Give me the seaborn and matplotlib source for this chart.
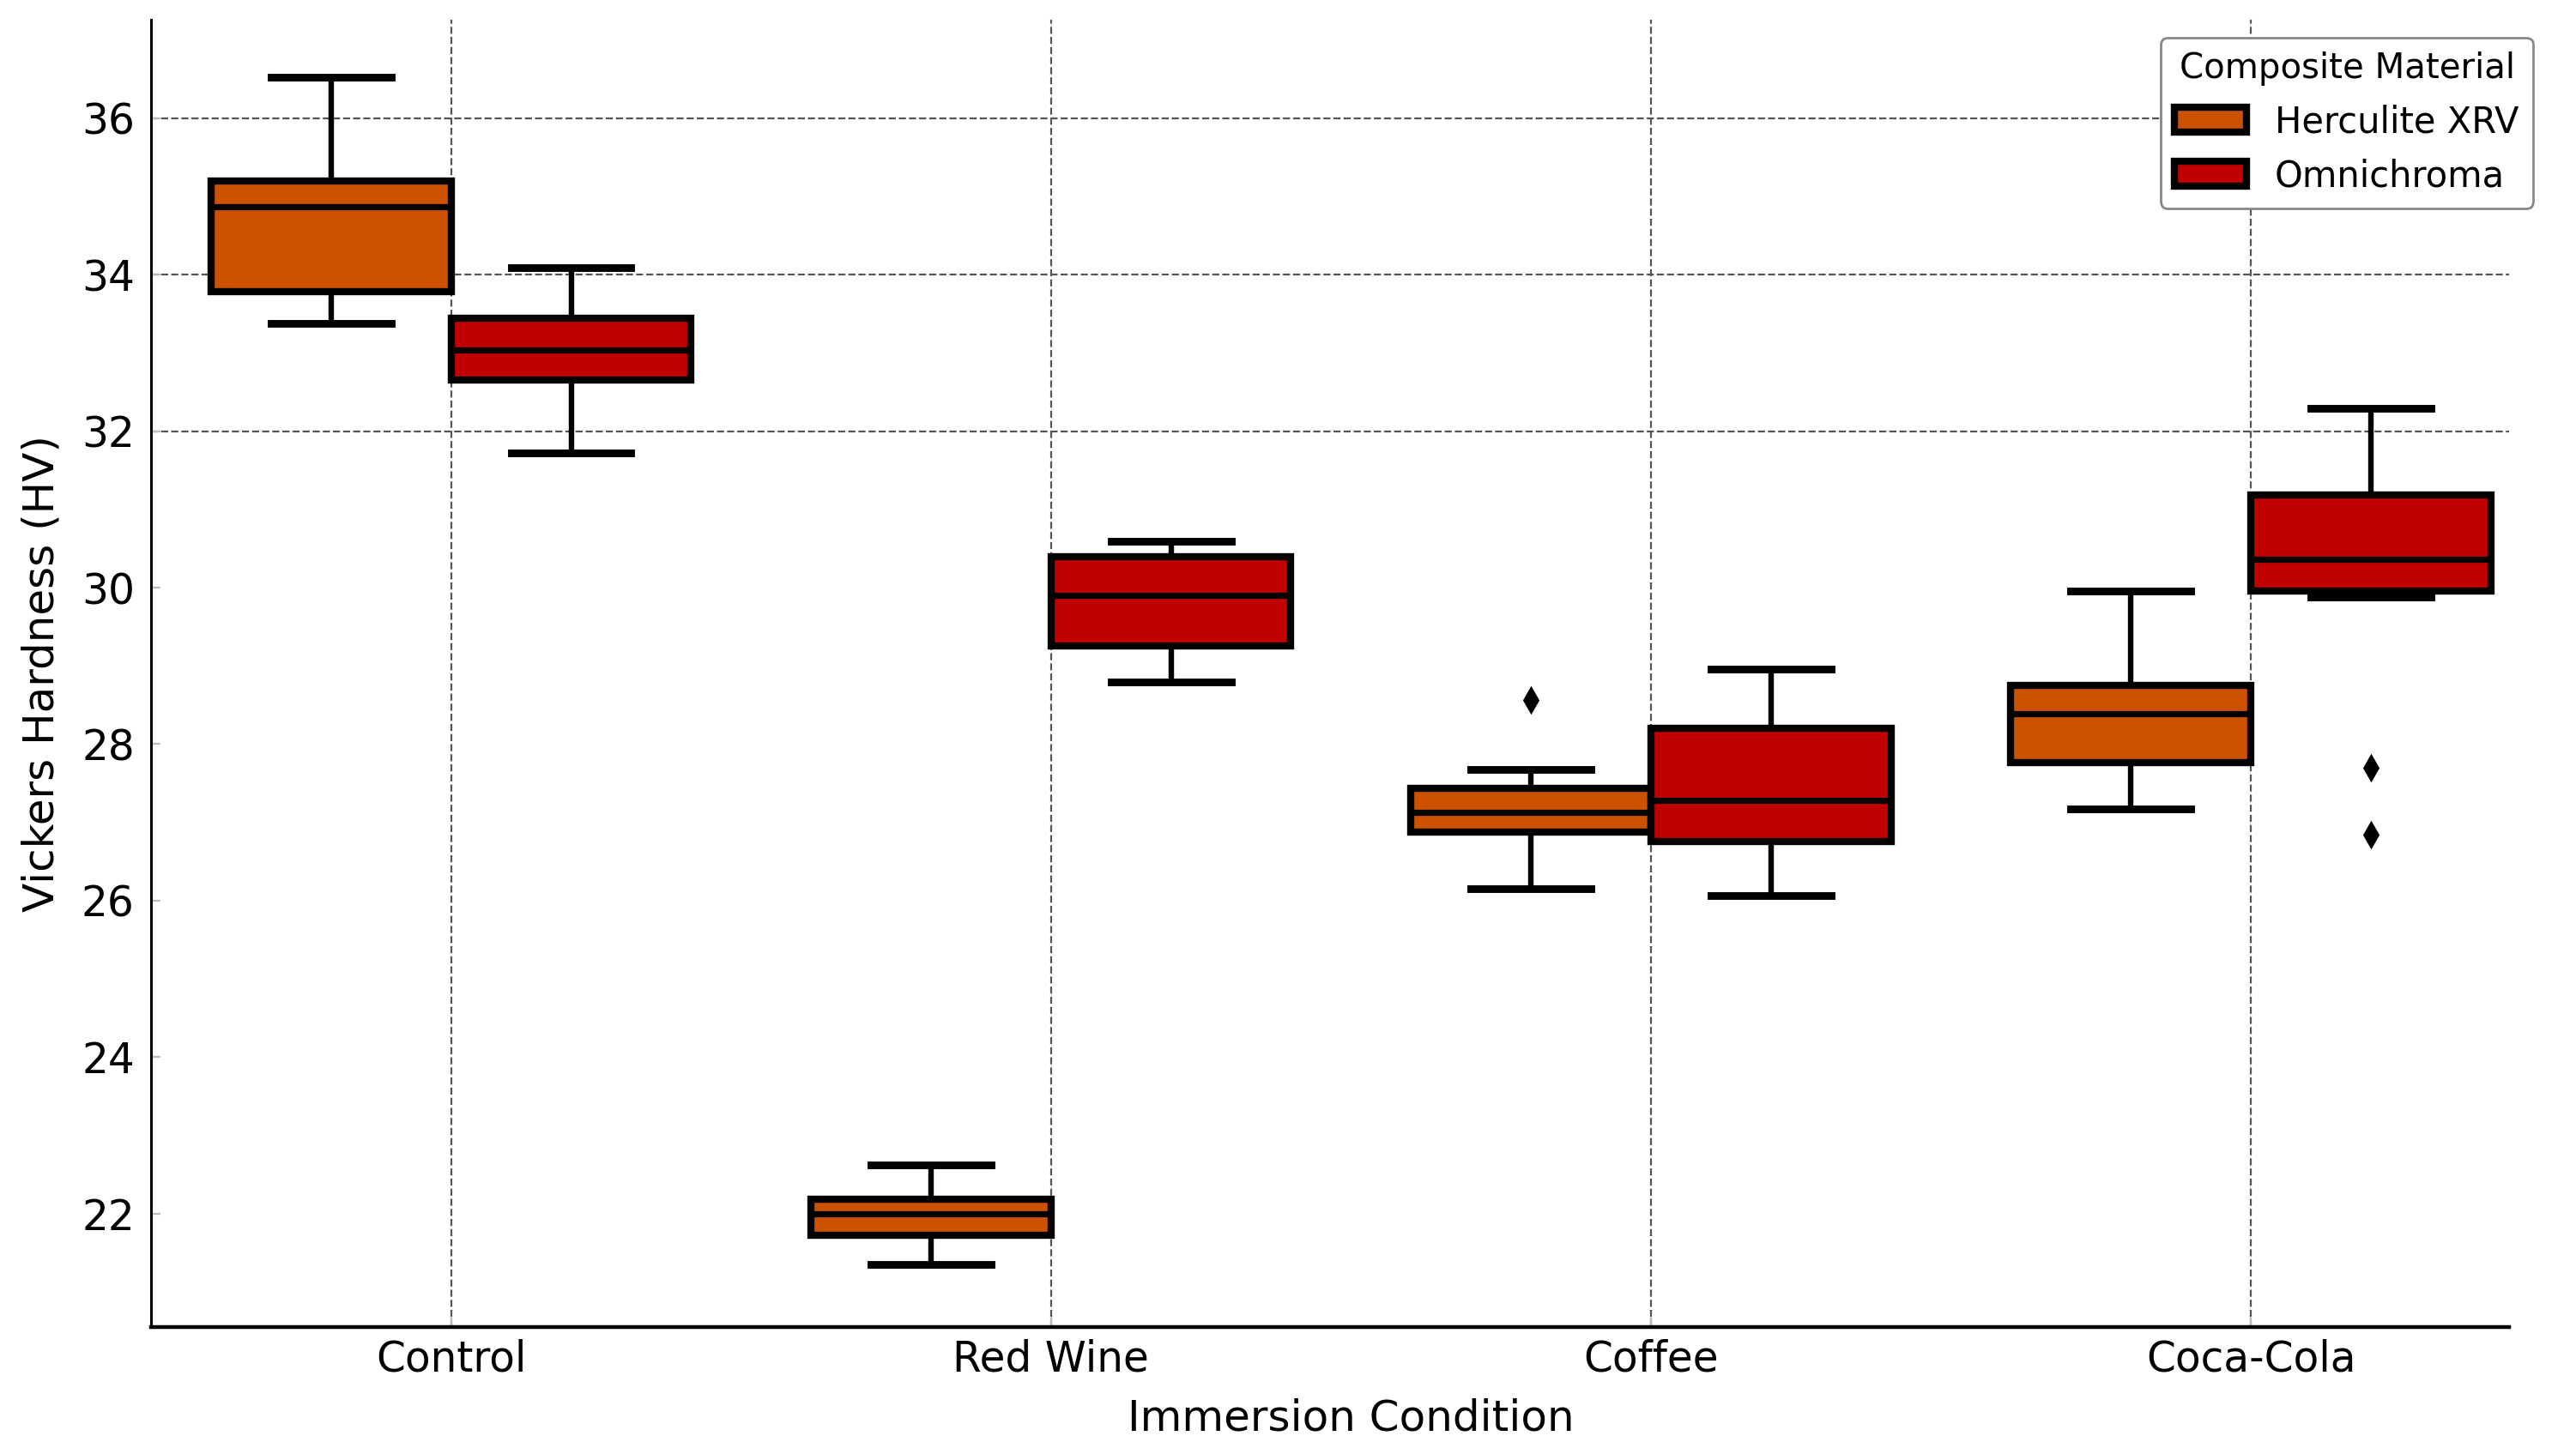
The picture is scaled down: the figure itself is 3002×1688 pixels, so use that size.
import matplotlib
matplotlib.use("Agg")
import numpy as np
import pandas as pd
import matplotlib.pyplot as plt
import seaborn as sns

# values (five-number summaries + fliers)
conditions = ["Control", "Red Wine", "Coffee", "Coca-Cola"]
materials = ["Herculite XRV", "Omnichroma"]

herculite_low = [33.38, 21.35, 26.15, 27.17]
herculite_q1 = [33.78, 21.72, 26.88, 27.76]
herculite_median = [34.87, 22.00, 27.13, 28.39]
herculite_q3 = [35.20, 22.18, 27.43, 28.75]
herculite_high = [36.52, 22.62, 27.68, 29.96]
herculite_outliers = [[], [], [28.56], []]

omnichroma_low = [31.72, 28.79, 26.06, 29.88]
omnichroma_q1 = [32.65, 29.25, 26.75, 29.96]
omnichroma_median = [33.04, 29.90, 27.28, 30.36]
omnichroma_q3 = [33.44, 30.40, 28.20, 31.18]
omnichroma_high = [34.09, 30.59, 28.96, 32.29]
omnichroma_outliers = [[], [], [], [27.70, 26.84]]

colors = ["#cc5200", "#c00000"]


def sample_from_summary(low, q1, med, q3, high, extra, k=10):
    # points whose quartiles / whiskers reproduce the summary exactly
    return [low] + [q1] * k + [med] * k + [q3] * k + [high] + list(extra)


rows = []
summaries = {
    "Herculite XRV": (herculite_low, herculite_q1, herculite_median,
                      herculite_q3, herculite_high, herculite_outliers),
    "Omnichroma": (omnichroma_low, omnichroma_q1, omnichroma_median,
                   omnichroma_q3, omnichroma_high, omnichroma_outliers),
}
for mat, (lo, q1, md, q3, hi, out) in summaries.items():
    for i, cond in enumerate(conditions):
        for v in sample_from_summary(lo[i], q1[i], md[i], q3[i], hi[i], out[i]):
            rows.append({"Immersion Condition": cond, "Composite Material": mat,
                         "Vickers Hardness (HV)": v})
df = pd.DataFrame(rows)

fig = plt.figure(figsize=(15.01, 8.44), dpi=200)
ax = fig.add_axes([0.0587, 0.0836, 0.9152, 0.9028])

sns.boxplot(
    data=df,
    x="Immersion Condition",
    y="Vickers Hardness (HV)",
    hue="Composite Material",
    order=conditions,
    hue_order=materials,
    palette=colors,
    saturation=1,
    width=0.8,
    gap=0,
    linecolor="black",
    linewidth=3.0,
    whiskerprops=dict(linewidth=2.3),
    capprops=dict(linewidth=3.2),
    medianprops=dict(linewidth=2.6),
    flierprops=dict(marker="d", markerfacecolor="black",
                    markeredgecolor="black", markersize=7),
    ax=ax,
)

ax.set_xlim(-0.5, 3.43)
ax.set_ylim(20.55, 37.26)
ax.set_yticks([22, 24, 26, 28, 30, 32, 34, 36])
ax.grid(True, linestyle="--", color="#555555", linewidth=0.8)
ax.set_axisbelow(True)
# the reference only shows the upper horizontal grid lines
for tick_val, gl in zip(ax.get_yticks(), ax.get_ygridlines()):
    gl.set_visible(tick_val >= 31)
sns.despine(ax=ax)
ax.spines["left"].set_linewidth(1.1)
ax.spines["bottom"].set_linewidth(1.6)
ax.tick_params(direction="in", color="#bbbbbb", length=4, labelsize=17.5)
ax.tick_params(axis="y", pad=7)
ax.tick_params(axis="x", pad=5)
ax.set_xlabel("Immersion Condition", fontsize=18)
ax.xaxis.set_label_coords(0.509, -0.054)
ax.set_ylabel("Vickers Hardness (HV)", fontsize=18, labelpad=8)

sns.move_legend(
    ax, "upper right",
    bbox_to_anchor=(1.018, 1.0),
    title="Composite Material",
    fontsize=15,
    title_fontsize=14.5,
    frameon=True,
    edgecolor="#888888",
    framealpha=1,
    handlelength=2.0,
)

fig.savefig("out.png", dpi=200)
